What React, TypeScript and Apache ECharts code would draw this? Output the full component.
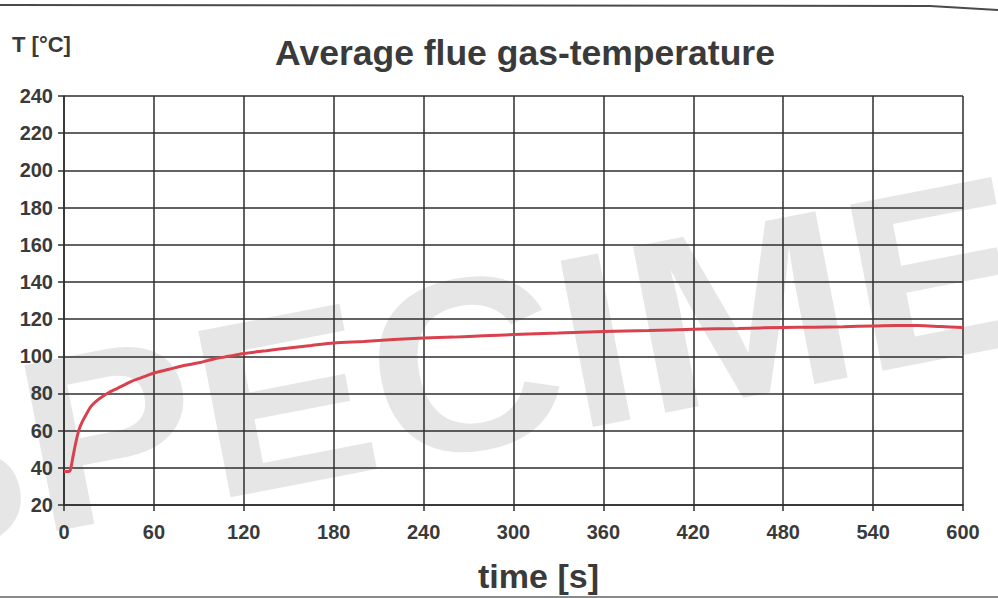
import React, { useEffect, useRef } from "react";
import * as echarts from "echarts";

const timeS = [0, 2, 4, 6, 8, 10, 12, 15, 18, 21, 25, 30, 35, 40, 45, 50, 55, 60, 70, 80, 90, 100, 110, 120, 135, 150, 165, 180, 200, 220, 240, 260, 280, 300, 330, 360, 390, 420, 450, 480, 500, 520, 540, 555, 570, 585, 600];
const tempC = [38, 38, 38.5, 46, 54, 60.5, 64.5, 69, 73, 75.5, 78, 80.5, 82.5, 84.5, 86.5, 88, 89.5, 91, 93, 95, 96.5, 98.5, 100, 101.5, 103, 104.5, 105.8, 107.2, 108, 109, 109.8, 110.3, 111, 111.7, 112.5, 113.3, 113.8, 114.5, 115, 115.5, 115.6, 115.9, 116.3, 116.5, 116.5, 116, 115.5];
const xTicks = { min: 0, max: 600, interval: 60 };
const yTicks = { min: 20, max: 240, interval: 20 };

const TEXT = "#3a3a3a";
const GRIDC = "#2e2e2e";
const FONT = "'Liberation Sans', Arial, sans-serif";

export default function App() {
  const ref = useRef<HTMLDivElement>(null);
  useEffect(() => {
    if (!ref.current) return;
    const chart = echarts.init(ref.current, null, { renderer: "svg" });
    const data = timeS.map((t, i) => [t, tempC[i]]);
    chart.setOption({
      animation: false,
      backgroundColor: "#ffffff",
      textStyle: { fontFamily: FONT },
      title: {
        text: "Average flue gas-temperature",
        left: 520,
        top: 30,
        textAlign: "center",
        textStyle: { fontSize: 35.5, fontWeight: "bold", color: TEXT, fontFamily: FONT },
      },
      grid: { left: 64, right: 35, top: 96, bottom: 91, containLabel: false },
      xAxis: {
        type: "value",
        min: xTicks.min,
        max: xTicks.max,
        interval: xTicks.interval,
        name: "time [s]",
        nameLocation: "middle",
        nameGap: 54,
        nameTextStyle: { fontSize: 34, fontWeight: "bold", color: TEXT, fontFamily: FONT, padding: [0, 0, 0, 50] },
        axisLine: { show: true, lineStyle: { color: GRIDC, width: 1.5 } },
        axisTick: { show: true, length: 6, lineStyle: { color: GRIDC, width: 1.5 } },
        axisLabel: { fontSize: 20, fontWeight: "bold", color: TEXT, margin: 17, fontFamily: FONT },
        splitLine: { show: true, lineStyle: { color: GRIDC, width: 1.5 } },
      },
      yAxis: {
        type: "value",
        min: yTicks.min,
        max: yTicks.max,
        interval: yTicks.interval,
        axisLine: { show: true, lineStyle: { color: GRIDC, width: 1.5 } },
        axisTick: { show: true, length: 6, lineStyle: { color: GRIDC, width: 1.5 } },
        axisLabel: { fontSize: 20, fontWeight: "bold", color: TEXT, margin: 11, fontFamily: FONT },
        splitLine: { show: true, lineStyle: { color: GRIDC, width: 1.5 } },
      },
      graphic: [
        {
          type: "text",
          z: -10,
          silent: true,
          x: 530,
          y: 352,
          scaleX: 1.08,
          rotation: (11 * Math.PI) / 180,
          style: {
            text: "SPECIMEN",
            fontSize: 246,
            fontWeight: "bold",
            fontFamily: FONT,
            fill: "#e6e6e6",
            textAlign: "center",
            textVerticalAlign: "middle",
          },
        },
        {
          type: "text",
          x: 12,
          y: 33,
          style: { text: "T [°C]", fontSize: 22, fontWeight: "bold", fill: TEXT, fontFamily: FONT },
        },
        {
          type: "polyline",
          silent: true,
          shape: { points: [[0, 5], [930, 6], [998, 10]] },
          style: { stroke: "#4a4a4a", lineWidth: 2, fill: "none" },
        },
        {
          type: "line",
          silent: true,
          shape: { x1: 0, y1: 597, x2: 998, y2: 597 },
          style: { stroke: "#8a8a8a", lineWidth: 2 },
        },
      ],
      series: [
        {
          type: "line",
          data,
          showSymbol: false,
          smooth: 0.3,
          lineStyle: { color: "#d8424f", width: 3 },
          z: 5,
        },
      ],
    });
    return () => chart.dispose();
  }, []);
  return <div ref={ref} style={{ position: "absolute", left: 0, top: 0, width: 998, height: 598 }} />;
}
